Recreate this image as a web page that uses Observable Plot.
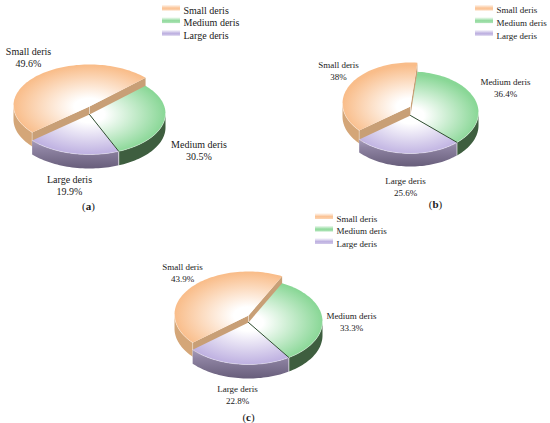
<!DOCTYPE html>
<html>
<head>
<meta charset="utf-8">
<script src="https://cdn.jsdelivr.net/npm/d3@7"></script>
<script src="https://cdn.jsdelivr.net/npm/@observablehq/plot@0.6"></script>
<style>
  html, body { margin: 0; padding: 0; background: #fff; }
  #chart svg { display: block; }
</style>
</head>
<body>
<div id="chart"></div>
<script>
// ---------- data ----------
const categories = ["Small deris", "Medium deris", "Large deris"];
const valuesA = [49.6, 30.5, 19.9];
const valuesB = [38, 36.4, 25.6];
const valuesC = [43.9, 33.3, 22.8];
const panels = ["a", "b", "c"];

// ---------- styles ----------
const topColors = ["#f9bd8a", "#89d796", "#bcaee0"];
const outerSideColors = ["#d4a678", "#3e5e3f", "url(#sideLarge)"];
const wallColor = "#c89f76";
const legendColors = ["#fbc293", "#8fd99b", "#bdb0e0"];
const textColor = "#1a1a1a";
const serif = "'Liberation Serif', 'Times New Roman', Times, serif";
const startAngle = 221; // first slice starts here (math degrees), slices run clockwise

// ---------- layout ----------
const layout = [
  {values: valuesA, cx: 89, cy: 113, rx: 76, ry: 41, k: 1, depth: 14, lift: 8,
   font: 10, lineHeight: 1.2, legendX: 162, legendY: 10, legendStep: 12.6, legendFont: 10,
   labels: [[28, 56.5], [198.5, 149.5], [69, 184.5]], caption: [88, 205.5]},
  {values: valuesB, cx: 410, cy: 112, rx: 68, ry: 41, k: 3, depth: 13, lift: 9,
   font: 9, lineHeight: 1.35, legendX: 475, legendY: 10, legendStep: 12.6, legendFont: 9,
   labels: [[338, 70], [505, 86.5], [405, 185.5]], caption: [435, 203.5]},
  {values: valuesC, cx: 248, cy: 321, rx: 74, ry: 43, k: 1, depth: 14, lift: 7,
   font: 9, lineHeight: 1.3, legendX: 315, legendY: 218.5, legendStep: 12.5, legendFont: 9,
   labels: [[182, 271.5], [351, 320.5], [237, 394]], caption: [248, 416.5]}
];

// ---------- geometry (computed from the values) ----------
const rad = a => a * Math.PI / 180;
const rim = (p, a, dy) => ({x: p.cx + p.rx * Math.cos(rad(a)), y: p.cy - p.ry * Math.sin(rad(a)) + dy});
const vertex = (p, dy) => ({x: p.cx, y: p.cy + p.k + dy});
function arc(p, a0, a1, dy) {
  const n = Math.max(2, Math.ceil(Math.abs(a1 - a0) / 2));
  const pts = [];
  for (let j = 0; j <= n; j++) pts.push(rim(p, a0 + (a1 - a0) * j / n, dy));
  return pts;
}
function frontIntervals(lo, hi) {
  const out = [];
  for (const [s, e] of [[-180, 0], [180, 360]]) {
    const a = Math.max(lo, s), b = Math.min(hi, e);
    if (b > a) out.push([a, b]);
  }
  return out;
}

const shapes = [];
layout.forEach((p, pi) => {
  const total = d3.sum(p.values);
  let a = startAngle;
  const slices = p.values.map((v, i) => {
    const hi = a, lo = a - 360 * v / total;
    a = lo;
    return {i, lo, hi, dy: i === 0 ? -p.lift : 0};
  });
  const side = s => frontIntervals(s.lo, s.hi).map(([s0, s1]) => ({
    pts: [...arc(p, s0, s1, s.dy), ...arc(p, s1, s0, s.dy + p.depth)], fill: outerSideColors[s.i]}));
  const rimLine = s => frontIntervals(s.lo, s.hi).map(([s0, s1]) => ({
    pts: arc(p, s0, s1, s.dy), fill: "none", stroke: "#fff", opacity: 0.45, strokeWidth: 0.8}));
  const top = s => ({pts: [vertex(p, s.dy), ...arc(p, s.lo, s.hi, s.dy)], fill: `url(#top${pi}${s.i})`});
  const wall = (s, ang) => ({pts: [vertex(p, s.dy), rim(p, ang, s.dy), rim(p, ang, s.dy + p.depth), vertex(p, s.dy + p.depth)], fill: wallColor});
  const seg = (A, B, color, op, w) => ({pts: [A, B], fill: "none", stroke: color, opacity: op, strokeWidth: w});

  // lifted first slice (behind)
  const s0 = slices[0];
  shapes.push(...side(s0));
  if (Math.cos(rad(s0.lo)) > 0) shapes.push(wall(s0, s0.lo));
  if (Math.cos(rad(s0.hi)) < 0) shapes.push(wall(s0, s0.hi));
  shapes.push(seg(vertex(p, s0.dy), vertex(p, s0.dy + p.depth), "#fff", 0.55, 0.8));
  shapes.push(seg(rim(p, s0.hi, s0.dy), rim(p, s0.hi, s0.dy + p.depth), "#fff", 0.45, 0.8));
  shapes.push(top(s0));
  shapes.push(...rimLine(s0));

  // the other slices
  const rest = slices.slice(1);
  rest.forEach(s => shapes.push(...side(s)));
  const b = slices[1].lo;
  if (Math.sin(rad(b)) < 0) shapes.push(seg(rim(p, b, 0), rim(p, b, p.depth), "#fff", 0.7, 0.9));
  rest.forEach(s => shapes.push(top(s)));
  rest.forEach(s => shapes.push(...rimLine(s)));
  shapes.push(seg(vertex(p, 0), rim(p, b, 0), "#2e4d30", 1, 1));
});

// ---------- gradients (placed through the plot's scales) ----------
function defsMark(index, scales, values, dimensions, context) {
  const doc = (context && context.document) || document, NS = "http://www.w3.org/2000/svg";
  const g = doc.createElementNS(NS, "g"), d = doc.createElementNS(NS, "defs");
  g.appendChild(d);
  const el = (name, attrs, parent) => {
    const e = doc.createElementNS(NS, name);
    for (const k in attrs) e.setAttribute(k, attrs[k]);
    parent.appendChild(e);
    return e;
  };
  layout.forEach((p, pi) => p.values.forEach((v, i) => {
    const dy = i === 0 ? -p.lift : 0;
    const X0 = scales.x(p.cx), Y0 = scales.y(p.cy + p.k + dy);
    const RX = scales.x(p.cx + p.rx) - X0, RY = scales.y(p.cy + p.k + dy + p.ry) - Y0;
    const rg = el("radialGradient", {id: `top${pi}${i}`, gradientUnits: "userSpaceOnUse", cx: 0, cy: 0, r: 1,
      gradientTransform: `translate(${X0},${Y0}) scale(${RX},${RY})`}, d);
    el("stop", {offset: 0, "stop-color": "#ffffff"}, rg);
    el("stop", {offset: 0.2, "stop-color": "#ffffff"}, rg);
    el("stop", {offset: 1, "stop-color": topColors[i]}, rg);
  }));
  const sl = el("linearGradient", {id: "sideLarge", x1: 0, y1: 0, x2: 0, y2: 1}, d);
  el("stop", {offset: 0, "stop-color": "#a79dbb"}, sl);
  el("stop", {offset: 0.3, "stop-color": "#8e83a2"}, sl);
  el("stop", {offset: 1, "stop-color": "#685e7b"}, sl);
  legendColors.forEach((c, i) => {
    const lg = el("linearGradient", {id: `leg${i}`, x1: 0, y1: 0, x2: 0, y2: 1}, d);
    el("stop", {offset: 0, "stop-color": "#ffffff"}, lg);
    el("stop", {offset: 0.6, "stop-color": c}, lg);
    el("stop", {offset: 1, "stop-color": c, "stop-opacity": 0.7}, lg);
  });
  return g;
}

// ---------- marks ----------
const marks = [defsMark];
shapes.forEach(s => marks.push(Plot.line(s.pts, {
  x: "x", y: "y", fill: s.fill, stroke: s.stroke || "none",
  strokeWidth: s.strokeWidth || 1, strokeOpacity: s.opacity == null ? 1 : s.opacity
})));

layout.forEach((p, pi) => {
  // legend
  categories.forEach((c, i) => {
    const yc = p.legendY + i * p.legendStep - 2.5;
    marks.push(Plot.rect([{x1: p.legendX, x2: p.legendX + 18, y1: yc - 3, y2: yc + 3}],
      {x1: "x1", x2: "x2", y1: "y1", y2: "y2", fill: `url(#leg${i})`}));
  });
  marks.push(Plot.text(categories.map((c, i) => ({x: p.legendX + 21, y: p.legendY + i * p.legendStep, t: c})),
    {x: "x", y: "y", text: "t", textAnchor: "start", fontSize: p.legendFont, fontFamily: serif, fill: textColor}));
  // slice labels
  marks.push(Plot.text(categories.map((c, i) => ({x: p.labels[i][0], y: p.labels[i][1], t: `${c}\n${p.values[i]}%`})),
    {x: "x", y: "y", text: "t", textAnchor: "middle", fontSize: p.font, lineHeight: p.lineHeight, fontFamily: serif, fill: textColor}));
  // caption
  marks.push(Plot.text([{x: p.caption[0], y: p.caption[1], t: `(${panels[pi]})`}],
    {x: "x", y: "y", text: "t", textAnchor: "middle", fontSize: 11, fontFamily: serif, fill: textColor}));
});

const chart = Plot.plot({
  width: 550, height: 423,
  margin: 0,
  x: {domain: [0, 550], range: [0, 550], axis: null},
  y: {domain: [0, 423], range: [0, 423], axis: null},
  style: {background: "#fff", overflow: "visible"},
  marks
});

// bold panel letter inside the parentheses
const NS = "http://www.w3.org/2000/svg";
chart.querySelectorAll("text").forEach(t => {
  const m = /^\((\w)\)$/.exec(t.textContent);
  if (!m) return;
  t.textContent = "";
  [["(", false], [m[1], true], [")", false]].forEach(([s, bold]) => {
    const ts = document.createElementNS(NS, "tspan");
    ts.textContent = s;
    if (bold) ts.setAttribute("font-weight", "bold");
    t.appendChild(ts);
  });
});
document.getElementById("chart").appendChild(chart);
</script>
</body>
</html>
